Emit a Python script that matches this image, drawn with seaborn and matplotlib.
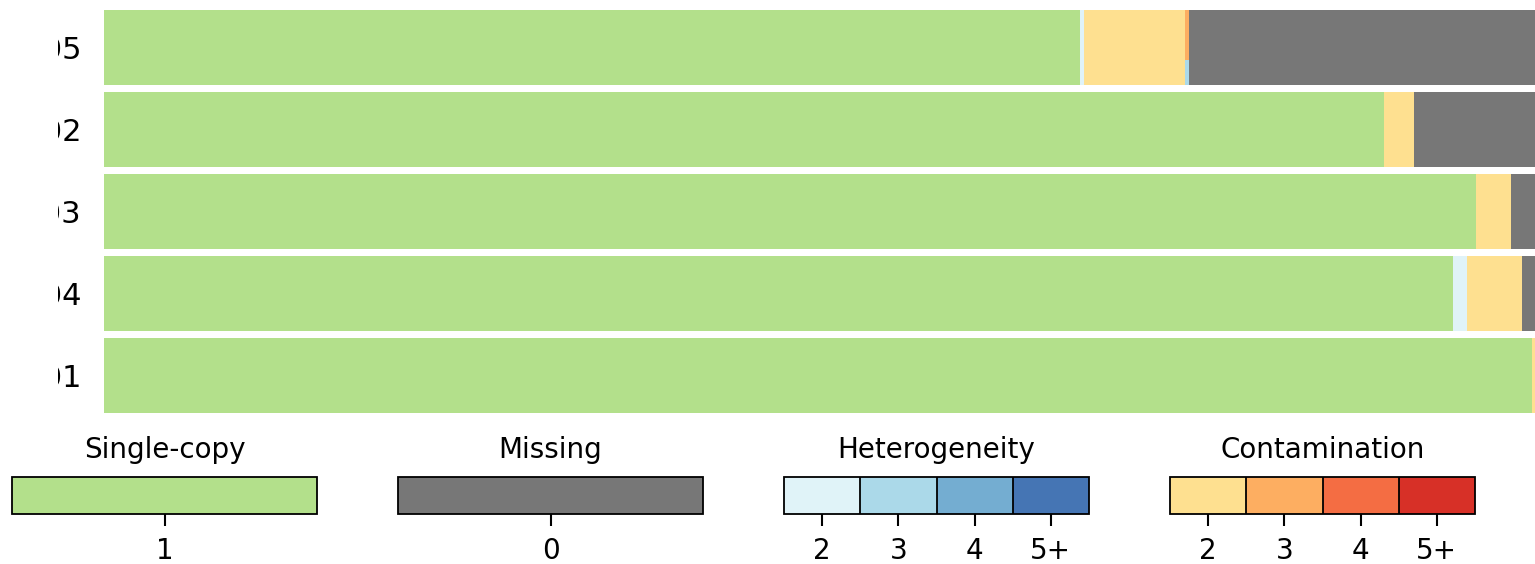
import numpy as np
import pandas as pd
import matplotlib.pyplot as plt
import matplotlib as mpl
from matplotlib.colors import ListedColormap, BoundaryNorm
from matplotlib.transforms import Bbox
import seaborn as sns

# genomes, top to bottom (labels are cut off at the left in the original)
genomes = ["MAG_05", "MAG_02", "MAG_03", "MAG_04", "MAG_01"]

# fraction of markers in each class
single_copy = [0.682, 0.8945, 0.9588, 0.9427, 0.9979]
het_2 = [0.0028, 0.0, 0.0, 0.0098, 0.0]
cont_2 = [0.0706, 0.021, 0.0245, 0.0384, 0.0021]
mixed = [0.0028, 0.0, 0.0, 0.0, 0.0]      # thin column: cont 3 on top, het 3 below
missing = [0.2418, 0.0846, 0.0168, 0.0091, 0.0]

het_labels = ["2", "3", "4", "5+"]
het_colors = ["#e0f3f8", "#abd9e9", "#74add1", "#4575b4"]
cont_labels = ["2", "3", "4", "5+"]
cont_colors = ["#fee090", "#fdae61", "#f46d43", "#d73027"]
single_color = "#b3e08b"
missing_color = "#777777"

sns.set_style("white")
plt.rcParams["font.family"] = ["DejaVu Sans"]
plt.rcParams["text.color"] = "black"
plt.rcParams["xtick.color"] = "black"
plt.rcParams["ytick.color"] = "black"

df = pd.DataFrame({"genome": genomes, "single": single_copy, "het2": het_2,
                   "cont2": cont_2, "mixed": mixed, "missing": missing})
cols = ["single", "het2", "cont2", "mixed", "missing"]
cum = df[cols].cumsum(axis=1)

fig = plt.figure(figsize=(15.35, 5.64), dpi=100)
ax = fig.add_axes([104 / 1535, 0.2606, 1431 / 1535, 0.7278])

bar_h = 0.9135
# draw cumulative totals back to front
layers = [("missing", missing_color), ("mixed", het_colors[1]),
          ("cont2", cont_colors[0]), ("het2", het_colors[0]),
          ("single", single_color)]
for col, color in layers:
    sns.barplot(x=cum[col], y=df["genome"], orient="h", color=color,
                width=bar_h, linewidth=0, saturation=1, ax=ax, order=genomes)

# upper part of the mixed column is contamination level 3
left_mixed = cum["cont2"].values
ax.barh(np.arange(len(genomes)) - bar_h / 2, df["mixed"], left=left_mixed,
        height=bar_h * 2 / 3, align="edge", color=cont_colors[1], linewidth=0)

ax.set_xlim(0, 1)
ax.set_ylim(len(genomes) - 0.5, -0.5)
ax.set_xlabel("")
ax.set_ylabel("")
ax.set_xticks([])
ax.tick_params(axis="y", length=0, pad=16.5, labelsize=22, labelcolor="black")
for s in ax.spines.values():
    s.set_visible(False)

# the genome names are clipped on the left, as in the original
clip = Bbox([[58, 0], [104, 564]])
for lab in ax.get_yticklabels():
    lab.set_clip_box(clip)
    lab.set_clip_on(True)

# legend colour bars
legends = [("Single-copy", [single_color], ["1"]),
           ("Missing", [missing_color], ["0"]),
           ("Heterogeneity", het_colors, het_labels),
           ("Contamination", cont_colors, cont_labels)]
for i, (title, colors, labels) in enumerate(legends):
    cax = fig.add_axes([(12 + 386 * i) / 1535, 50 / 564, 305 / 1535, 37 / 564])
    n = len(colors)
    cmap = ListedColormap(colors)
    norm = BoundaryNorm(np.arange(n + 1), n)
    sm = mpl.cm.ScalarMappable(norm=norm, cmap=cmap)
    cb = fig.colorbar(sm, cax=cax, orientation="horizontal", drawedges=n > 1)
    cb.minorticks_off()
    cb.set_ticks(np.arange(n) + 0.5)
    cb.set_ticklabels(labels)
    cb.outline.set_linewidth(1.3)
    cb.outline.set_edgecolor("black")
    if n > 1:
        cb.dividers.set_linewidth(1.3)
        cb.dividers.set_color("black")
    cax.tick_params(axis="x", which="major", length=8.3, width=1.5, pad=8,
                    labelsize=20, bottom=True, colors="black")
    cax.tick_params(axis="x", which="minor", length=0)
    cax.set_title(title, fontsize=20, pad=14, color="black")

fig.savefig("out.png", dpi=100)
